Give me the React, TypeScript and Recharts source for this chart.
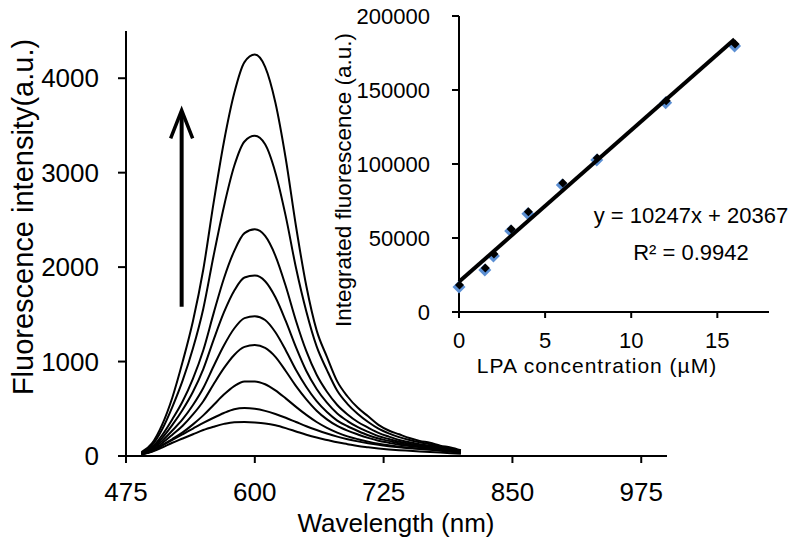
import React from "react";
import {
  LineChart,
  Line,
  XAxis,
  YAxis,
  ReferenceLine,
  ScatterChart,
  Scatter,
} from "recharts";

// emission spectra, one reading every 10 nm
const wavelengths = [
  490, 500, 510, 520, 530, 540, 550, 560, 570, 580, 590, 600, 610, 620, 630, 640,
  650, 660, 670, 680, 690, 700, 710, 720, 730, 740, 750, 760, 770, 780, 790, 800,
];

const s1 = [
  40, 130, 330, 620, 1000, 1430, 1975, 2680, 3325, 3840, 4170, 4250, 4120, 3740, 3150, 2430,
  1800, 1330, 1050, 790, 630, 510, 420, 330, 270, 230, 190, 160, 140, 110, 90, 60,
];
const s2 = [
  35, 110, 280, 520, 800, 1140, 1560, 2120, 2640, 3070, 3330, 3390, 3300, 3000, 2540, 1990,
  1530, 1160, 910, 690, 550, 445, 360, 290, 240, 200, 170, 145, 125, 100, 80, 55,
];
const s3 = [
  30, 90, 220, 390, 580, 820, 1120, 1510, 1880, 2170, 2360, 2400, 2330, 2120, 1800, 1430,
  1110, 860, 680, 540, 440, 360, 300, 245, 205, 170, 145, 125, 110, 90, 70, 50,
];
const s4 = [
  28, 80, 190, 330, 490, 680, 920, 1230, 1520, 1750, 1890, 1910, 1850, 1680, 1430, 1150,
  900, 710, 565, 450, 370, 305, 255, 210, 180, 150, 130, 115, 100, 85, 65, 45,
];
const s5 = [
  25, 70, 160, 270, 390, 540, 720, 950, 1170, 1350, 1460, 1480, 1440, 1310, 1120, 910,
  730, 580, 465, 375, 315, 265, 220, 185, 160, 135, 118, 105, 92, 78, 60, 42,
];
const s6 = [
  22, 58, 135, 225, 320, 440, 580, 760, 930, 1070, 1155, 1175, 1145, 1050, 900, 740,
  600, 480, 388, 318, 268, 228, 192, 162, 140, 120, 106, 95, 84, 72, 56, 40,
];
const s7 = [
  20, 50, 115, 180, 250, 335, 430, 540, 650, 740, 790, 790, 760, 695, 610, 520,
  435, 360, 298, 248, 208, 178, 152, 130, 113, 99, 88, 80, 72, 62, 50, 36,
];
const s8 = [
  18, 50, 110, 170, 230, 290, 350, 405, 455, 495, 508, 500, 478, 445, 405, 360,
  315, 275, 238, 205, 178, 155, 135, 118, 104, 92, 82, 73, 65, 56, 46, 34,
];
const s9 = [
  15, 45, 90, 140, 185, 230, 275, 310, 340, 358, 360, 355, 345, 325, 295, 260,
  225, 195, 170, 145, 125, 105, 92, 80, 70, 62, 55, 48, 42, 36, 30, 24,
];
const spectra = [s1, s2, s3, s4, s5, s6, s7, s8, s9];

const wlTicks = [475, 600, 725, 850, 975];
const intensityTicks = [0, 1000, 2000, 3000, 4000];

// inset: integrated fluorescence vs LPA concentration
const lpaConc = [0, 1.5, 2, 3, 4, 6, 8, 12, 16];
const integrated = [17500, 29000, 38500, 55400, 67000, 86500, 103400, 142000, 180400];
// linear fit y = 10247x + 20367, drawn between x = 0 and x = 16
const fitX = [0, 16];
const fitY = [20367, 184319];
const concTicks = [0, 5, 10, 15];
const integTicks = [0, 50000, 100000, 150000, 200000];

const rows = wavelengths.map((w, i) => {
  const r: Record<string, number> = { w };
  spectra.forEach((s, k) => (r["c" + k] = s[i]));
  return r;
});
const points = lpaConc.map((x, i) => ({ x, y: integrated[i] }));
const fit = fitX.map((x, i) => ({ x, y: fitY[i] }));

const font = "'Liberation Sans', Arial, sans-serif";

const Diamond = (props: any) => {
  const { cx, cy } = props;
  if (cx == null || cy == null) return <g />;
  const d = (x: number, y: number, r: number) =>
    `M${x},${y - r} L${x + r},${y} L${x},${y + r} L${x - r},${y} Z`;
  return (
    <g>
      <path d={d(cx, cy + 1, 6.5)} fill="#5b8fd3" />
      <path d={d(cx + 0.5, cy - 1, 4.5)} fill="#000" />
    </g>
  );
};

const Arrow = (props: any) => {
  const { x1, y1, x2, y2 } = props;
  const top = Math.min(y1, y2);
  const bottom = Math.max(y1, y2);
  return (
    <g>
      <line x1={x1} y1={bottom} x2={x2} y2={top + 2} stroke="#000" strokeWidth={4} />
      <polyline
        points={`${x1 - 11},${top + 28} ${x1},${top} ${x1 + 11},${top + 28}`}
        fill="none"
        stroke="#000"
        strokeWidth={3.5}
      />
    </g>
  );
};

export default function App() {
  return (
    <div style={{ position: "absolute", left: 0, top: 0, width: 800, height: 550, background: "#fff", fontFamily: font }}>
      <div style={{ position: "absolute", left: 0, top: 0 }}>
        <LineChart width={800} height={550} data={rows} margin={{ top: 31, right: 133, left: 0, bottom: 0 }}>
          <XAxis
            dataKey="w"
            type="number"
            domain={[475, 1000]}
            ticks={wlTicks}
            allowDataOverflow
            height={94}
            tickSize={7}
            tickMargin={20}
            stroke="#000"
            strokeWidth={2}
            tick={{ fill: "#000", fontSize: 26, fontFamily: font }}
          />
          <YAxis
            type="number"
            domain={[0, 4500]}
            ticks={intensityTicks}
            width={126}
            tickSize={8}
            tickMargin={19}
            stroke="#000"
            strokeWidth={2}
            tick={{ fill: "#000", fontSize: 26, fontFamily: font }}
          />
          {spectra.map((_, k) => (
            <Line
              key={k}
              type="monotone"
              dataKey={"c" + k}
              stroke="#000"
              strokeWidth={2}
              dot={false}
              activeDot={false}
              isAnimationActive={false}
            />
          ))}
          <ReferenceLine
            segment={[
              { x: 529, y: 1580 },
              { x: 529, y: 3660 },
            ]}
            shape={Arrow}
          />
        </LineChart>
      </div>

      <div style={{ position: "absolute", left: 330, top: 0 }}>
        <ScatterChart width={470} height={400} margin={{ top: 16, right: 31, left: 0, bottom: 0 }}>
          <XAxis
            dataKey="x"
            type="number"
            domain={[0, 18]}
            ticks={concTicks}
            height={88}
            tickSize={6}
            tickMargin={14}
            stroke="#000"
            strokeWidth={2}
            tick={{ fill: "#000", fontSize: 22, fontFamily: font }}
          />
          <YAxis
            dataKey="y"
            type="number"
            domain={[0, 200000]}
            ticks={integTicks}
            width={129}
            tickSize={7}
            tickMargin={22}
            stroke="#000"
            strokeWidth={2}
            tick={{ fill: "#000", fontSize: 22, fontFamily: font }}
          />
          <Scatter data={points} shape={Diamond} isAnimationActive={false} />
          <Scatter
            data={fit}
            line={{ stroke: "#000", strokeWidth: 4 }}
            shape={() => <g />}
            isAnimationActive={false}
          />
        </ScatterChart>
      </div>

      <svg width={800} height={550} style={{ position: "absolute", left: 0, top: 0, pointerEvents: "none" }}>
        <g fontFamily={font} fill="#000">
          <text x={23} y={217} fontSize={29} textAnchor="middle" dominantBaseline="central" transform="rotate(-90 23 217)">
            Fluorescence intensity(a.u.)
          </text>
          <text x={396} y={532} fontSize={26} textAnchor="middle">
            Wavelength (nm)
          </text>
          <text x={343} y={180} fontSize={22.5} textAnchor="middle" dominantBaseline="central" transform="rotate(-90 343 180)">
            Integrated fluorescence (a.u.)
          </text>
          <text x={597} y={373} fontSize={21} letterSpacing={1} textAnchor="middle">
            LPA concentration (µM)
          </text>
          <text x={691} y={223} fontSize={22} textAnchor="middle">
            y = 10247x + 20367
          </text>
          <text x={691} y={260} fontSize={22} textAnchor="middle">
            R² = 0.9942
          </text>
        </g>
      </svg>
    </div>
  );
}
